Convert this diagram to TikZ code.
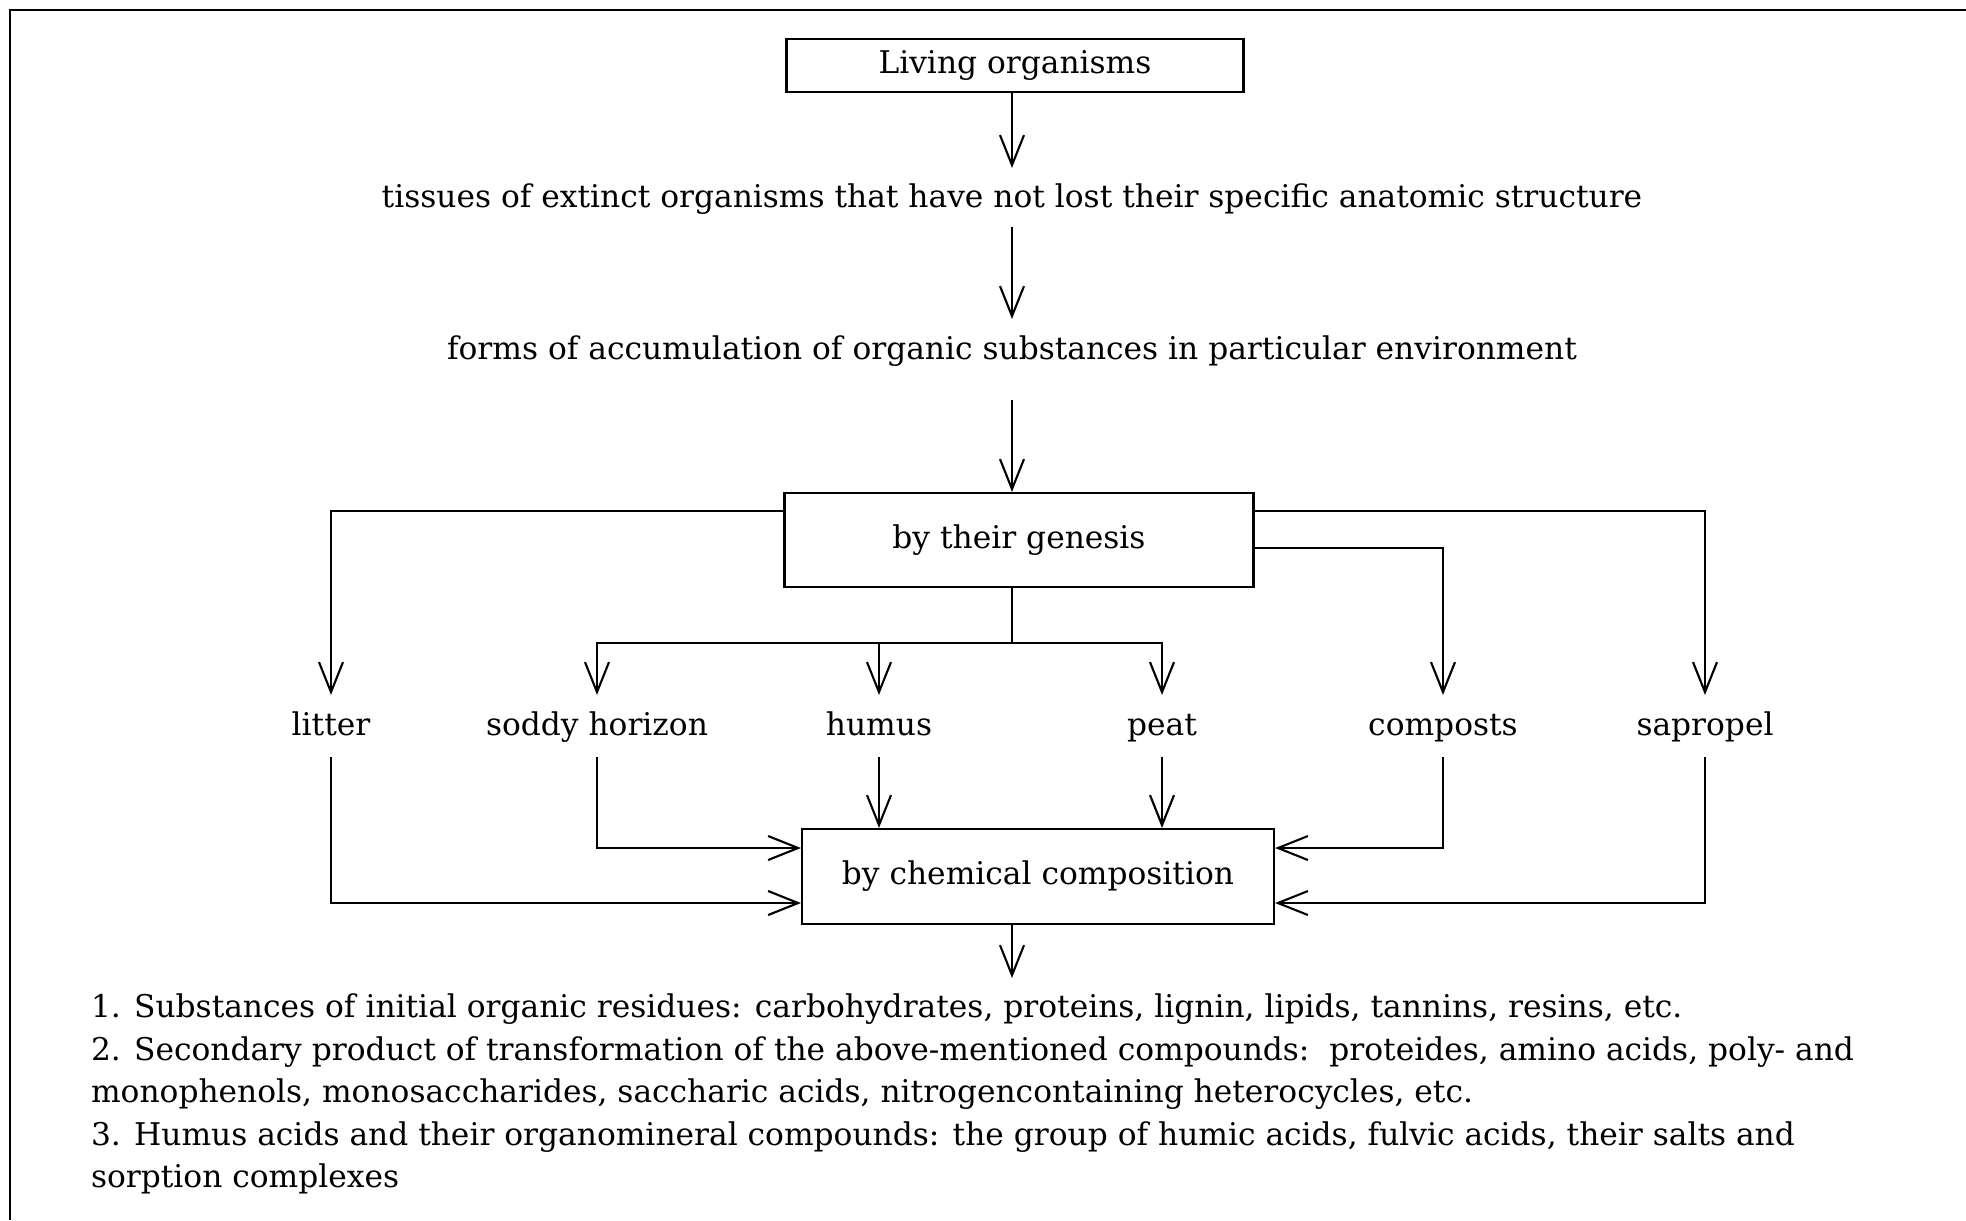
\documentclass[tikz,border=0pt]{standalone}
\usepackage{fontspec}
\setmainfont{DejaVu Serif}
\usetikzlibrary{arrows.meta, positioning}

\begin{document}
\begin{tikzpicture}[
    font=\fontsize{8.9}{12.1}\selectfont,
    line width=0.6pt,
    box/.style={rectangle, draw, inner sep=0pt},
    lbl/.style={inner sep=0pt, minimum height=0.6cm, text height=6.8pt, text depth=1.2pt},
    arrow/.style={-{Straight Barb[length=3mm,width=2.4mm]}}
]
    \useasboundingbox (0,0) rectangle (19.66,-12.20);
    % Frame
    \draw (0.10,-12.20) -- (0.10,-0.10) -- (19.66,-0.10);

    % Row 1
    \node[box, minimum width=4.57cm, minimum height=0.53cm] (living) at (10.15,-0.655) {Living organisms};
    \node[lbl, minimum height=0.57cm] (tissues) at (10.12,-1.975) {tissues of extinct organisms that have not lost their specific anatomic structure};
    \node[lbl] (forms) at (10.12,-3.50) {forms of accumulation of organic substances in particular environment};
    \node[box, minimum width=4.69cm, minimum height=0.94cm] (genesis) at (10.19,-5.40) {by their genesis};
    \coordinate (split) at (10.12,-6.43);

    % Row 2
    \node[lbl] (litter) at (3.31,-7.26) {litter};
    \node[lbl] (soddy) at (5.97,-7.26) {soddy horizon};
    \node[lbl] (humus) at (8.79,-7.26) {humus};
    \node[lbl] (peat) at (11.62,-7.26) {peat};
    \node[lbl] (composts) at (14.43,-7.26) {composts};
    \node[lbl] (sapropel) at (17.05,-7.26) {sapropel};

    % Row 3
    \node[box, minimum width=4.72cm, minimum height=0.95cm] (chem) at (10.38,-8.765) {by chemical composition};
    \coordinate (chemout) at (10.12,-9.78);
    \node[anchor=north west, inner sep=0pt, align=left] (list) at (0.90,-9.93) {1. Substances of initial organic residues: carbohydrates, proteins, lignin, lipids, tannins, resins, etc.\\
        2. Secondary product of transformation of the above-mentioned compounds:\ \ proteides, amino acids, poly- and\\
        monophenols, monosaccharides, saccharic acids, nitrogencontaining heterocycles, etc.\\
        3. Humus acids and their organomineral compounds: the group of humic acids, fulvic acids, their salts and\\
        sorption complexes};

    % Arrows
    \draw[arrow] (living.south -| tissues.north) -- (tissues);
    \draw[arrow] (tissues) -- (forms);
    \draw[arrow] ([yshift=-0.19cm]forms.south) -- (forms.south |- genesis.north);
    \draw[arrow] ([yshift=-0.19cm]genesis.north west) -| (litter);
    \draw[arrow] ([yshift=-0.19cm]genesis.north east) -| (sapropel);
    \draw[arrow] ([yshift=-0.56cm]genesis.north east) -| (composts);
    \draw (split |- genesis.south) -- (split);
    \draw[arrow] (split) -| (soddy);
    \draw[arrow] (split) -| (peat);
    \draw[arrow] (humus |- split) -- (humus);

    \draw[arrow] (litter) |- ([yshift=-0.265cm]chem.west);
    \draw[arrow] (soddy) |- ([yshift=0.285cm]chem.west);
    \draw[arrow] (humus) -- (humus |- chem.north);
    \draw[arrow] (peat) -- (peat |- chem.north);
    \draw[arrow] (composts) |- ([yshift=0.285cm]chem.east);
    \draw[arrow] (sapropel) |- ([yshift=-0.265cm]chem.east);
    \draw[arrow] (chemout |- chem.south) -- (chemout);
\end{tikzpicture}
\end{document}
